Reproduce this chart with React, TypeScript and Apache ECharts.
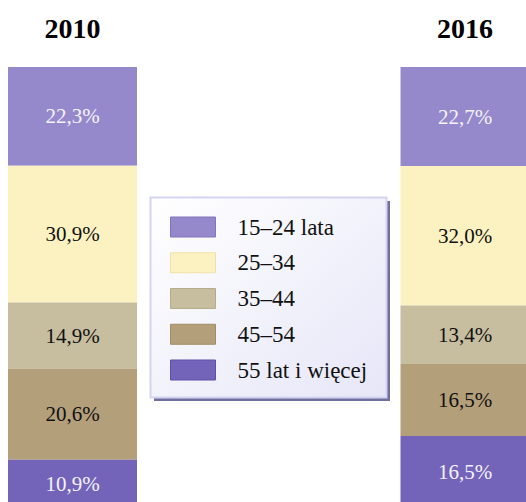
import React, { useEffect, useRef } from "react";
import * as echarts from "echarts";

const years = ["2010", "2016"];
const groups = ["15–24 lata", "25–34", "35–44", "45–54", "55 lat i więcej"];
const share2010 = [22.3, 30.9, 14.9, 20.6, 10.9];
const share2016 = [22.7, 32.0, 13.4, 16.5, 16.5];
const colors = ["#9589CB", "#FCF2C1", "#C6BE9F", "#B39F7A", "#7364BA"];
const borderColors = ["#8275BE", "#EFE2A8", "#B5AC8B", "#A08C66", "#5E4FA8"];
const labelColors = ["#F4F2FA", "#111111", "#111111", "#111111", "#F4F2FA"];

const FONT = "Liberation Serif";

export default function App() {
  const ref = useRef<HTMLDivElement>(null);
  useEffect(() => {
    if (!ref.current) return;
    const chart = echarts.init(ref.current, null, { renderer: "svg" });
    const raw = [share2010, share2016];
    const totals = raw.map((arr) => arr.reduce((a, b) => a + b, 0));
    const fmt = (v: number) => v.toFixed(1).replace(".", ",") + "%";
    const gridTop = 67;
    const gridBottom = 0;
    const fullHeight = 441;
    const yMax = (100 * (502 - gridTop - gridBottom)) / fullHeight;

    const series = groups.map((g, gi) => ({
      name: g,
      type: "bar",
      stack: "total",
      barWidth: 129,
      clip: false,
      data: years.map((_, yi) => (raw[yi][gi] / totals[yi]) * 100),
      itemStyle: { color: colors[gi] },
      label: {
        show: true,
        position: "inside",
        fontFamily: FONT,
        fontSize: 21,
        color: labelColors[gi],
        formatter: (p: any) => fmt(raw[p.dataIndex][gi]),
      },
      emphasis: { disabled: true },
    }));

    chart.setOption({
      animation: false,
      backgroundColor: "#ffffff",
      textStyle: { fontFamily: FONT },
      grid: { left: 72.5, right: 61, top: gridTop, bottom: gridBottom, containLabel: false },
      xAxis: {
        type: "category",
        data: years,
        position: "top",
        boundaryGap: false,
        axisLine: { show: false },
        axisTick: { show: false },
        splitLine: { show: false },
        axisLabel: {
          margin: 25,
          fontFamily: FONT,
          fontWeight: "bold",
          fontSize: 28,
          color: "#000",
        },
      },
      yAxis: {
        type: "value",
        min: 0,
        max: yMax,
        inverse: true,
        show: false,
        splitLine: { show: false },
      },
      legend: {
        orient: "vertical",
        left: 170,
        top: 215.5,
        padding: 0,
        itemWidth: 45,
        itemHeight: 20,
        itemGap: 12.75,
        icon: "rect",
        selectedMode: false,
        data: groups.map((g, gi) => ({
          name: g,
          itemStyle: { borderColor: borderColors[gi], borderWidth: 1 },
        })),
        textStyle: {
          fontFamily: FONT,
          fontSize: 23,
          color: "#111",
          padding: [0, 0, 0, 17],
        },
      },
      graphic: [
        {
          type: "rect",
          z: -2,
          shape: { x: 154, y: 201, width: 236, height: 200 },
          style: { fill: "#70709E" },
          silent: true,
        },
        {
          type: "rect",
          z: -1,
          shape: { x: 150.5, y: 197.5, width: 236, height: 200 },
          style: {
            fill: new echarts.graphic.LinearGradient(0, 0, 1, 1, [
              { offset: 0, color: "#FFFFFF" },
              { offset: 1, color: "#E6E6F8" },
            ]),
            stroke: "#D4D4F2",
            lineWidth: 2,
          },
          silent: true,
        },
      ],
      series,
    });
    return () => chart.dispose();
  }, []);
  return (
    <div
      ref={ref}
      style={{ position: "absolute", left: 0, top: 0, width: 526, height: 502 }}
    />
  );
}
